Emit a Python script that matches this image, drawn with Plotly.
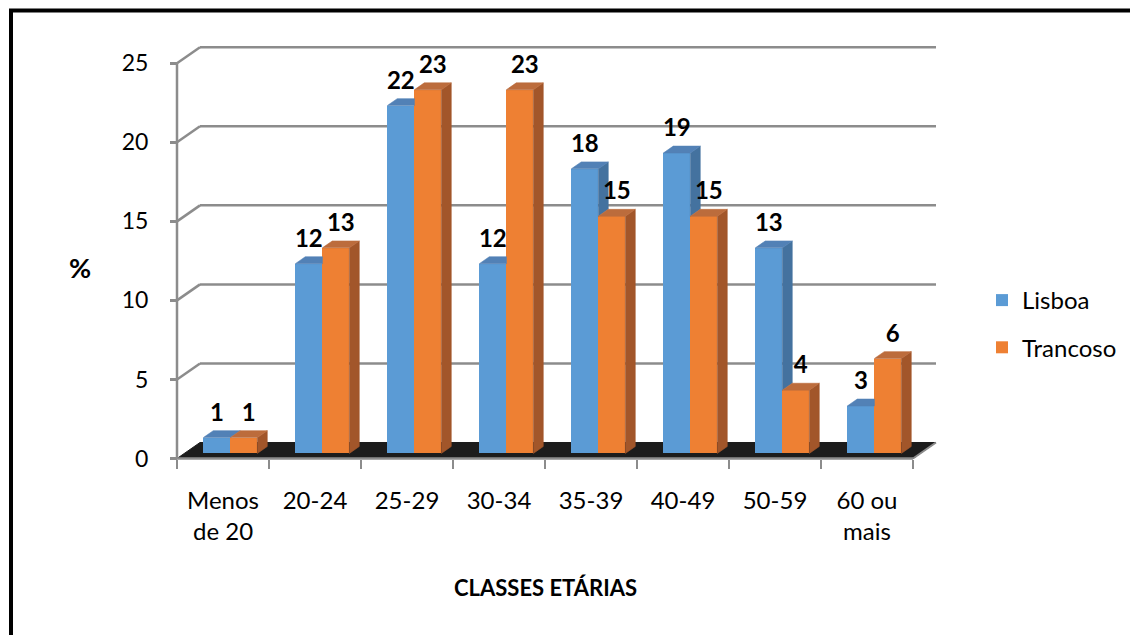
import plotly.graph_objects as go

# ---- data -------------------------------------------------------------
categories = ["Menos<br>de 20", "20-24", "25-29", "30-34", "35-39",
              "40-49", "50-59", "60 ou<br>mais"]
lisboa = [1, 12, 22, 12, 18, 19, 13, 3]
trancoso = [1, 13, 23, 23, 15, 15, 4, 6]
y_ticks = [0, 5, 10, 15, 20, 25]

# ---- geometry ---------------------------------------------------------
W, H = 1130, 635
L, R, T, B = 160, 940, 30, 465          # plot-area box (px)
X0_PX, Y0_PX = 177, 458.5               # front-left floor corner (x=-0.5, y=0)
PX_PER_CAT = 92.0
PX_PER_UNIT = 15.81

x_lo = -0.5 - (X0_PX - L) / PX_PER_CAT
x_hi = x_lo + (R - L) / PX_PER_CAT
y_lo = -(B - Y0_PX) / PX_PER_UNIT
y_hi = y_lo + (B - T) / PX_PER_UNIT

# depth of the 3-D box, in data units
DX = 23 / PX_PER_CAT
DY = 16 / PX_PER_UNIT
FRONT, DEPTH = 0.32, 0.43               # bar front plane and bar depth (fractions)
fx, fy = FRONT * DX, FRONT * DY
bx, by = DEPTH * DX, DEPTH * DY
BAR_W = 27 / PX_PER_CAT
LABEL_GAP = 4 / PX_PER_UNIT             # extra room between bar top and its label

n = len(categories)
idx = list(range(n))


def px_to_paper_x(px):
    return (px - L) / (R - L)


def px_to_paper_y(py):
    return (B - py) / (B - T)


BLUE, BLUE_SIDE, BLUE_TOP = "#5B9BD5", "#44729F", "#5281B6"
ORANGE, ORANGE_SIDE, ORANGE_TOP = "#EE8033", "#A2562A", "#BC6C3C"
GRID = "#8C8C8C"
FONT = "Lato"

fig = go.Figure()

# front faces
fig.add_trace(go.Bar(x=idx, y=lisboa, base=fy, offset=fx - BAR_W, width=BAR_W,
                     marker=dict(color=BLUE, line=dict(width=0)), name="Lisboa",
                     legendgroup="a", hoverinfo="skip"))
fig.add_trace(go.Bar(x=idx, y=trancoso, base=fy, offset=fx, width=BAR_W,
                     marker=dict(color=ORANGE, line=dict(width=0)), name="Trancoso",
                     legendgroup="b", hoverinfo="skip"))


def add_poly(xs, ys, color):
    fig.add_trace(go.Scatter(x=xs, y=ys, mode="lines", fill="toself",
                             fillcolor=color, line=dict(color=color, width=0.6),
                             showlegend=False, hoverinfo="skip"))


# side and top faces of the Lisboa bars (hidden where Trancoso is in front)
sx, sy, tx, ty = [], [], [], []
for i, v1, v2 in zip(idx, lisboa, trancoso):
    x0, x1 = i + fx - BAR_W, i + fx
    top = fy + v1
    if v1 > v2:
        lo = fy + v2
        sx += [x1, x1 + bx, x1 + bx, x1, x1, None]
        sy += [lo, lo + by, top + by, top, lo, None]
    if v2 <= v1:
        tx += [x0, x1, x1 + bx, x0 + bx, x0, None]
        ty += [top, top, top + by, top + by, top, None]
    else:
        tx += [x0, x1, x1, x0 + bx, x0, None]
        ty += [top, top, top + by, top + by, top, None]
add_poly(sx, sy, BLUE_SIDE)
add_poly(tx, ty, BLUE_TOP)

# side and top faces of the Trancoso bars
sx, sy, tx, ty = [], [], [], []
for i, v in zip(idx, trancoso):
    x0, x1 = i + fx, i + fx + BAR_W
    top = fy + v
    sx += [x1, x1 + bx, x1 + bx, x1, x1, None]
    sy += [fy, fy + by, top + by, top, fy, None]
    tx += [x0, x1, x1 + bx, x0 + bx, x0, None]
    ty += [top, top, top + by, top + by, top, None]
add_poly(sx, sy, ORANGE_SIDE)
add_poly(tx, ty, ORANGE_TOP)

# value labels
for vals, off in ((lisboa, fx - BAR_W / 2), (trancoso, fx + BAR_W / 2 + bx / 2)):
    fig.add_trace(go.Scatter(
        x=[i + off for i in idx], y=[fy + v + by + LABEL_GAP for v in vals],
        text=[str(v) for v in vals], mode="text", textposition="top center",
        textfont=dict(family=FONT, size=24, color="black", weight="bold"),
        cliponaxis=False, showlegend=False, hoverinfo="skip"))

# walls, floor and axis lines
shapes = []
for v in y_ticks[1:]:
    shapes.append(dict(type="line", layer="below", xref="x", yref="y",
                       x0=-0.5 + DX, y0=v + DY, x1=n - 0.5 + DX, y1=v + DY,
                       line=dict(color=GRID, width=2.5)))
    shapes.append(dict(type="line", layer="below", xref="x", yref="y",
                       x0=-0.5, y0=v, x1=-0.5 + DX, y1=v + DY,
                       line=dict(color=GRID, width=2.5)))
shapes.append(dict(type="path", layer="below", xref="x", yref="y",
                   path=f"M{-0.5},{0} L{n - 0.5},{0} L{n - 0.5 + DX},{DY} "
                        f"L{-0.5 + DX},{DY} Z",
                   fillcolor="#1C1C1C", line=dict(color="#1C1C1C", width=1)))
shapes.append(dict(type="line", layer="below", xref="x", yref="y",
                   x0=-0.5, y0=0, x1=-0.5, y1=y_ticks[-1],
                   line=dict(color=GRID, width=2.5)))
shapes.append(dict(type="line", layer="below", xref="x", yref="y",
                   x0=-0.5, y0=0, x1=n - 0.5, y1=0,
                   line=dict(color=GRID, width=2.5)))
shapes.append(dict(type="line", layer="below", xref="x", yref="y",
                   x0=n - 0.5, y0=0, x1=n - 0.5 + DX, y1=DY,
                   line=dict(color=GRID, width=2)))

# outer frame (top and left)
shapes.append(dict(type="line", xref="paper", yref="paper",
                   x0=px_to_paper_x(9), y0=px_to_paper_y(10.5),
                   x1=px_to_paper_x(1135), y1=px_to_paper_y(10.5),
                   line=dict(color="black", width=4)))
shapes.append(dict(type="line", xref="paper", yref="paper",
                   x0=px_to_paper_x(11), y0=px_to_paper_y(9),
                   x1=px_to_paper_x(11), y1=px_to_paper_y(640),
                   line=dict(color="black", width=4)))

annotations = [
    dict(text="<b>%</b>", xref="paper", yref="paper",
         x=px_to_paper_x(80), y=px_to_paper_y(267), showarrow=False,
         xanchor="center", yanchor="middle",
         font=dict(family=FONT, size=27, color="black")),
    dict(text="<b>CLASSES ETÁRIAS</b>", xref="paper", yref="paper",
         x=px_to_paper_x(545), y=px_to_paper_y(587), showarrow=False,
         xanchor="center", yanchor="middle",
         font=dict(family=FONT, size=22, color="black")),
]

fig.update_layout(
    width=W, height=H,
    margin=dict(l=L, r=W - R, t=T, b=H - B, pad=0),
    paper_bgcolor="white", plot_bgcolor="white",
    barmode="overlay", bargap=0,
    font=dict(family=FONT, size=23, color="black"),
    shapes=shapes, annotations=annotations,
    showlegend=True,
    legend=dict(xref="container", yref="container",
                x=982 / W, y=1 - 278 / H, xanchor="left", yanchor="top",
                font=dict(family=FONT, size=24, color="black"),
                tracegroupgap=13, traceorder="grouped",
                bgcolor="rgba(0,0,0,0)"),
    xaxis=dict(range=[x_lo, x_hi], tickvals=idx, ticktext=categories,
               ticks="", showgrid=False, zeroline=False, showline=False,
               anchor="free", position=px_to_paper_y(Y0_PX),
               ticklabelstandoff=25,
               minor=dict(tickvals=[i - 0.5 for i in range(n + 1)],
                          ticks="outside", ticklen=9, tickwidth=2,
                          tickcolor=GRID, showgrid=False),
               tickfont=dict(family=FONT, size=24, color="black")),
    yaxis=dict(range=[y_lo, y_hi], tickvals=y_ticks, ticks="outside",
               ticklen=7, tickwidth=2.5, tickcolor=GRID,
               showgrid=False, zeroline=False, showline=False,
               anchor="free", position=px_to_paper_x(X0_PX),
               ticklabelstandoff=17,
               tickfont=dict(family=FONT, size=23, color="black")),
)

fig.write_html("out.html")
